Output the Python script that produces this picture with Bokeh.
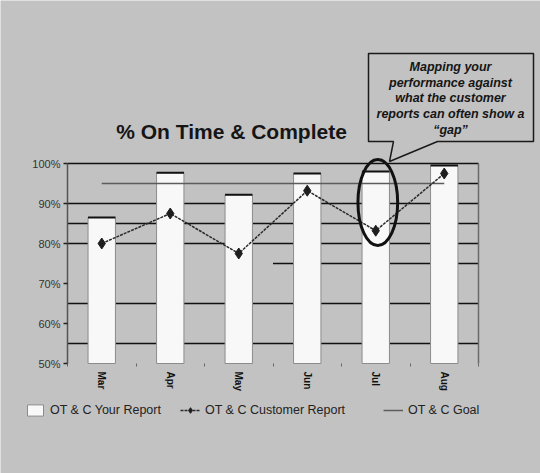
from bokeh.plotting import figure
from bokeh.models import Range1d, FixedTicker, Legend, LegendItem, Label
from bokeh.core.properties import value
from bokeh.embed import file_html
from bokeh.resources import INLINE

# ---------------- data ----------------
months = ["Mar", "Apr", "May", "Jun", "Jul", "Aug"]
your_report = [86.5, 97.7, 92.2, 97.5, 98.0, 99.5]       # OT & C Your Report (bars)
customer_report = [80.0, 87.5, 77.5, 93.2, 83.2, 97.5]   # OT & C Customer Report (line)
goal = [95, 95, 95, 95, 95, 95]                          # OT & C Goal
y_ticks = [50, 60, 70, 80, 90, 100]
y_tick_labels = ["50%", "60%", "70%", "80%", "90%", "100%"]
title_text = "% On Time & Complete"
callout_lines = ["Mapping your", "performance against", "what the customer",
                 "reports can often show a", "\u201cgap\u201d"]
legend_labels = ["OT & C Your Report", "OT & C Customer Report", "OT & C Goal"]

# ---------------- geometry / style ----------------
W, H = 540, 473
BG = "#c2c2c2"
FONT = "Liberation Sans"
PX_LEFT, PX_SLOT = 67.0, 68.5      # plot-area left edge and category slot width (px)
PX_Y100, PX_PER_PCT = 163.0, 4.0   # pixel row of 100% and pixels per percent

def dx(px):
    return (px - PX_LEFT) / PX_SLOT

def dy(py):
    return 100 - (py - PX_Y100) / PX_PER_PCT

n = len(months)
xs = [i + 0.5 for i in range(n)]

p = figure(width=W, height=H,
           x_range=Range1d(dx(0), dx(W)), y_range=Range1d(dy(H), dy(0)),
           output_backend="svg", toolbar_location=None, min_border=0,
           background_fill_color=BG, border_fill_color=BG, outline_line_color=None)
p.xgrid.visible = False
p.ygrid.visible = False

# gridlines (as drawn in the reference)
grid_full = [55, 65, 80, 85, 90, 100]
p.segment(x0=0, y0=grid_full, x1=n, y1=grid_full, line_color="#111111", line_width=1.5)
grid_part_y = [75, 95]
grid_part_x0 = [3, 5.5]
p.segment(x0=grid_part_x0, y0=grid_part_y, x1=n, y1=grid_part_y, line_color="#111111", line_width=1.5)
# right frame line
p.segment(x0=n, y0=50, x1=n, y1=100, line_color="#6a6a6a", line_width=1.5)

# bars
bw = 0.4
bars = p.vbar(x=xs, top=your_report, bottom=50, width=bw,
              fill_color="#f8f8f8", line_color="#8c8c8c", line_width=1)
p.segment(x0=[x - bw / 2 for x in xs], y0=your_report, x1=[x + bw / 2 for x in xs], y1=your_report,
          line_color="#111111", line_width=2)

# goal line
goal_line = p.line(xs, goal, line_color="#5c5c5c", line_width=1.5)

# customer report line
cust_line = p.line(xs, customer_report, line_color="#2a2a2a", line_width=1.5, line_dash="3 1")
cust_pts = p.scatter(xs, customer_report, marker="diamond", size=11,
                     fill_color="#1e1e1e", line_color="#1e1e1e")

# ellipse highlighting July
j = months.index("Jul")
p.ellipse(x=xs[j] + 0.03, y=90.25, width=0.58, height=21.5,
          fill_color=None, line_color="#111111", line_width=3)

# callout box
cx = [393, 368, 368, 533, 533, 437, 389]
cy = [141, 141, 53, 53, 141, 141, 161]
p.patch([dx(v) for v in cx], [dy(v) for v in cy], fill_color=BG,
        line_color="#1a1a1a", line_width=1.5)
line_rows = [66, 82, 97.5, 113, 129]
p.text(x=[dx(450)] * len(callout_lines), y=[dy(r) for r in line_rows], text=callout_lines,
       text_font=value(FONT), text_font_style="bold italic", text_font_size="12.5px",
       text_align="center", text_baseline="middle", text_color="#151515")

# title
p.add_layout(Label(x=dx(231), y=dy(131), text=title_text, text_font=FONT,
                   text_font_style="bold", text_font_size="21px", text_align="center",
                   text_baseline="middle", text_color="#151515"))

# axes
yax = p.yaxis[0]
yax.fixed_location = 0
yax.bounds = (50, 100)
yax.ticker = FixedTicker(ticks=y_ticks)
yax.major_label_overrides = {t: l for t, l in zip(y_ticks, y_tick_labels)}
yax.axis_line_color = "#555555"
yax.axis_line_width = 1.5
yax.major_tick_out = 4
yax.major_tick_in = 0
yax.major_tick_line_color = "#222222"
yax.major_tick_line_width = 1.5
yax.minor_tick_line_color = None
yax.major_label_standoff = 3
yax.major_label_text_font = FONT
yax.major_label_text_font_size = "11px"
yax.major_label_text_color = "#333333"

xax = p.xaxis[0]
xax.fixed_location = 50
xax.bounds = (0, n)
xax.ticker = FixedTicker(ticks=xs, minor_ticks=list(range(n + 1)))
xax.major_label_overrides = {x: m for x, m in zip(xs, months)}
xax.axis_line_color = None
xax.major_tick_line_color = None
xax.major_tick_out = 0
xax.major_tick_in = 0
xax.minor_tick_line_color = "#666666"
xax.minor_tick_out = 3
xax.minor_tick_in = 0
xax.major_label_orientation = "vertical"
xax.major_label_standoff = 5
xax.major_label_text_font = FONT
xax.major_label_text_font_style = "bold"
xax.major_label_text_font_size = "10px"
xax.major_label_text_color = "#111111"

# legends (one per item, placed along the bottom)
items = [LegendItem(label=legend_labels[0], renderers=[bars]),
         LegendItem(label=legend_labels[1], renderers=[cust_line, cust_pts]),
         LegendItem(label=legend_labels[2], renderers=[goal_line])]
for item, lx in zip(items, [25, 180, 383]):
    lg = Legend(items=[item], location=(lx, 56), orientation="horizontal",
                background_fill_alpha=0, border_line_color=None, padding=5, margin=0,
                glyph_width=20, glyph_height=14, label_standoff=5,
                label_text_font=FONT, label_text_font_size="12.5px", label_text_color="#222222")
    p.add_layout(lg, "center")

open("out.html", "w").write(file_html(p, INLINE))
